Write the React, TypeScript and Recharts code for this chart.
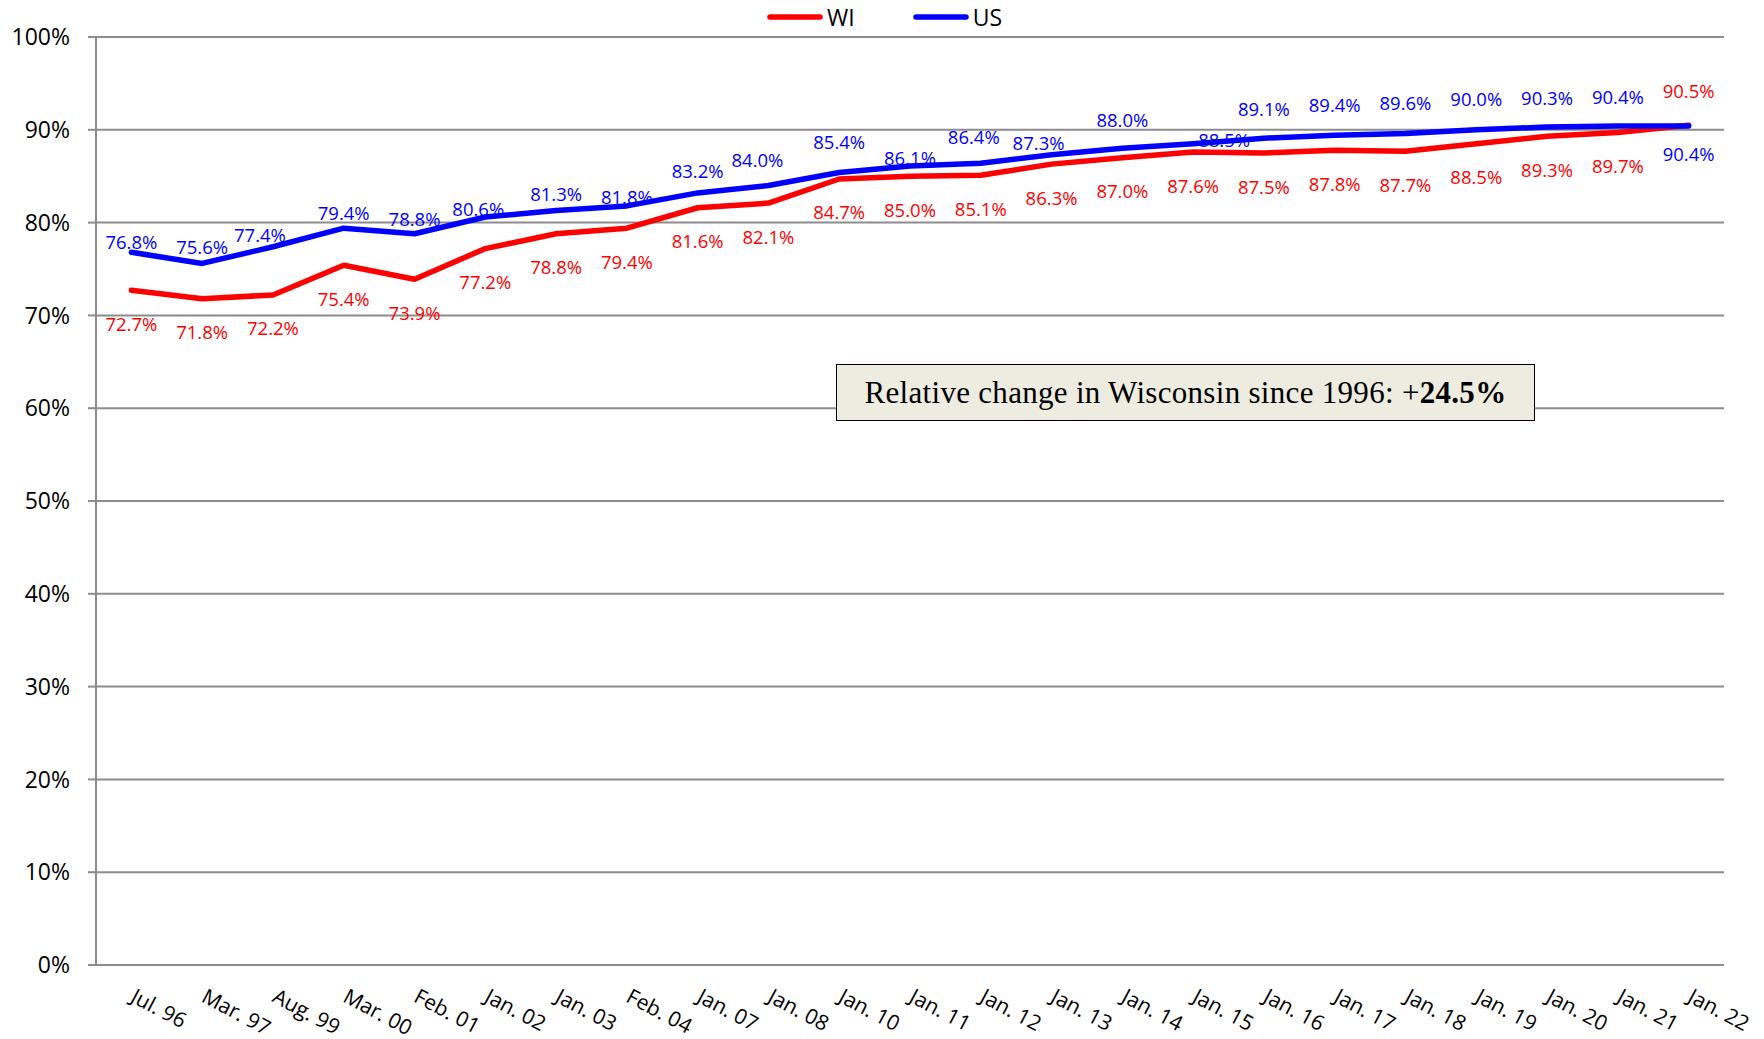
import React from "react";
import {
  LineChart,
  Line,
  XAxis,
  YAxis,
  CartesianGrid,
  LabelList,
} from "recharts";

const categories = [
  "Jul. 96", "Mar. 97", "Aug. 99", "Mar. 00", "Feb. 01", "Jan. 02", "Jan. 03",
  "Feb. 04", "Jan. 07", "Jan. 08", "Jan. 10", "Jan. 11", "Jan. 12", "Jan. 13",
  "Jan. 14", "Jan. 15", "Jan. 16", "Jan. 17", "Jan. 18", "Jan. 19", "Jan. 20",
  "Jan. 21", "Jan. 22",
];

const wiRate = [
  72.7, 71.8, 72.2, 75.4, 73.9, 77.2, 78.8, 79.4, 81.6, 82.1, 84.7, 85.0,
  85.1, 86.3, 87.0, 87.6, 87.5, 87.8, 87.7, 88.5, 89.3, 89.7, 90.5,
];

const usRate = [
  76.8, 75.6, 77.4, 79.4, 78.8, 80.6, 81.3, 81.8, 83.2, 84.0, 85.4, 86.1,
  86.4, 87.3, 88.0, 88.5, 89.1, 89.4, 89.6, 90.0, 90.3, 90.4, 90.4,
];

const yTicks = [0, 10, 20, 30, 40, 50, 60, 70, 80, 90, 100];

const data = categories.map((cat, i) => ({ idx: i, cat, wi: wiRate[i], us: usRate[i] }));
const centerTicks = categories.map((_, i) => i);
const boundaryTicks = categories.map((_, i) => i - 0.5).concat(categories.length - 0.5);
const xDomain = [-0.5, categories.length - 0.5];

// label placement, as hand-tuned in the original sheet
const usLift = [11, 17, 12, 16, 15, 9, 17, 9, 22, 26, 31, 8, 27, 12, 29, 4, 30, 31, 31, 31, 30, 30, -27];
const usShift: Record<number, number> = { 2: -13, 5: -7, 9: -11, 12: -7, 13: -13, 15: 31 };

const RED = "#ff0000";
const BLUE = "#0000ff";
const GRID = "#8c8c8c";
const FONT = "'Open Sans', sans-serif";

const CatTick = (props: any) => {
  const { x, y, payload } = props;
  const ax = x - 2;
  const ay = y + 26;
  return (
    <text
      x={ax}
      y={ay}
      transform={`rotate(28, ${ax}, ${ay})`}
      textAnchor="start"
      fontSize={21}
      fontFamily={FONT}
      fill="#000"
    >
      {categories[payload.value]}
    </text>
  );
};

const WiLabel = (props: any) => {
  const { x, y, value, index } = props;
  const dy = index === categories.length - 1 ? -35 : 33;
  return (
    <text x={x} y={y + dy} textAnchor="middle" dominantBaseline="central" fontSize={18.5} fontFamily={FONT} fill={RED}>
      {`${Number(value).toFixed(1)}%`}
    </text>
  );
};

const UsLabel = (props: any) => {
  const { x, y, value, index } = props;
  return (
    <text
      x={x + (usShift[index] || 0)}
      y={y - usLift[index]}
      textAnchor="middle"
      dominantBaseline="central"
      fontSize={18.5}
      fontFamily={FONT}
      fill={BLUE}
    >
      {`${Number(value).toFixed(1)}%`}
    </text>
  );
};

function LegendKey({ color, label }: { color: string; label: string }) {
  return (
    <div style={{ display: "flex", alignItems: "center", marginRight: 58 }}>
      <svg width={56} height={10}>
        <line x1={3} y1={5} x2={53} y2={5} stroke={color} strokeWidth={5.5} strokeLinecap="round" />
      </svg>
      <span style={{ fontSize: 23, marginLeft: 4, fontFamily: FONT }}>{label}</span>
    </div>
  );
}

export default function App() {
  return (
    <div style={{ position: "absolute", left: 0, top: 0, width: 1764, height: 1039, background: "#fff" }}>
      <div
        style={{
          position: "absolute",
          left: 767,
          top: 4,
          display: "flex",
          alignItems: "center",
          height: 26,
        }}
      >
        <LegendKey color={RED} label="WI" />
        <LegendKey color={BLUE} label="US" />
      </div>
      <LineChart
        width={1764}
        height={1039}
        data={data}
        margin={{ top: 37, right: 40, bottom: 0, left: 0 }}
      >
        <CartesianGrid vertical={false} xAxisId="cat" stroke={GRID} strokeWidth={2} />
        <XAxis
          xAxisId="bound"
          dataKey="idx"
          type="number"
          domain={xDomain}
          ticks={boundaryTicks}
          interval={0}
          tick={false}
          tickSize={9}
          tickLine={{ stroke: GRID, strokeWidth: 2 }}
          axisLine={{ stroke: GRID, strokeWidth: 2 }}
          height={10}
        />
        <XAxis
          xAxisId="cat"
          dataKey="idx"
          type="number"
          domain={xDomain}
          ticks={centerTicks}
          interval={0}
          axisLine={false}
          tickLine={false}
          tickSize={0}
          tickMargin={0}
          tick={<CatTick />}
          height={64}
        />
        <YAxis
          type="number"
          domain={[0, 100]}
          ticks={yTicks}
          interval={0}
          width={96}
          tickSize={8}
          tickMargin={18}
          tickFormatter={(v) => `${v}%`}
          tick={{ fontSize: 23, fill: "#000", fontFamily: FONT }}
          tickLine={{ stroke: GRID, strokeWidth: 2 }}
          axisLine={{ stroke: GRID, strokeWidth: 2 }}
        />
        <Line
          xAxisId="cat"
          dataKey="wi"
          name="WI"
          stroke={RED}
          strokeWidth={5.5}
          strokeLinejoin="round"
          strokeLinecap="round"
          dot={false}
          isAnimationActive={false}
        >
          <LabelList dataKey="wi" content={<WiLabel />} />
        </Line>
        <Line
          xAxisId="cat"
          dataKey="us"
          name="US"
          stroke={BLUE}
          strokeWidth={5.5}
          strokeLinejoin="round"
          strokeLinecap="round"
          dot={false}
          isAnimationActive={false}
        >
          <LabelList dataKey="us" content={<UsLabel />} />
        </Line>
      </LineChart>
      <div
        style={{
          position: "absolute",
          left: 836,
          top: 364,
          width: 697,
          height: 55,
          background: "#eeece1",
          border: "1.5px solid #000",
          display: "flex",
          alignItems: "center",
          justifyContent: "center",
          fontFamily: "'Liberation Serif', 'Times New Roman', serif",
          fontSize: 31,
          letterSpacing: 0.3,
          color: "#000",
        }}
      >
        <span>
          Relative change in Wisconsin since 1996: +<b>24.5%</b>
        </span>
      </div>
    </div>
  );
}
